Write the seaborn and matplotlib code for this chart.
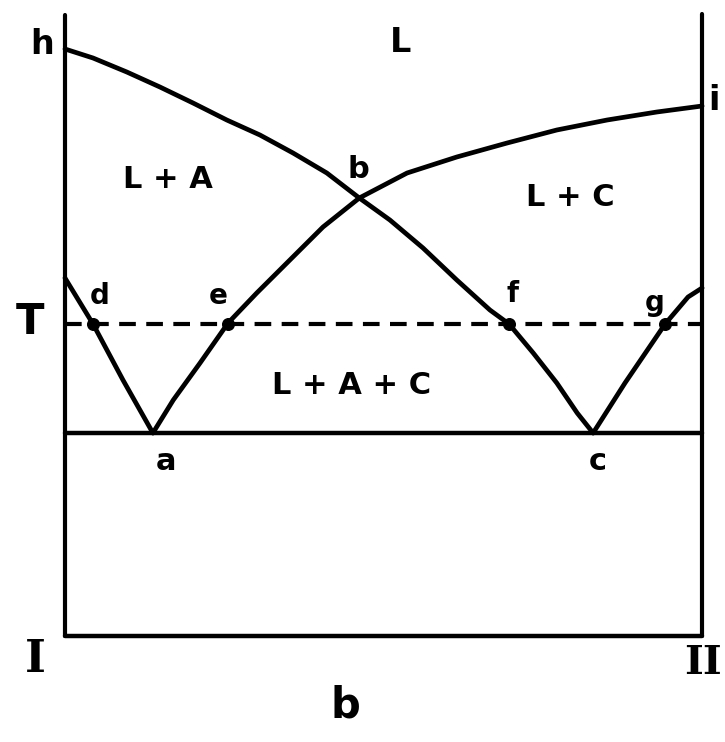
import numpy as np
import pandas as pd
import seaborn as sns
import matplotlib.pyplot as plt

sns.set_theme(style="white")
plt.rcParams["font.family"] = ["DejaVu Sans"]

# composizione (0 = I, 100 = II) e temperatura (unita arbitrarie)
liq_A_x = [0, 4.4, 9.7, 14.9, 20.1, 25.4, 30.6, 35.8, 41.1, 46.2,
           51.0, 56.2, 61.5, 66.7, 69.7, 73.5, 77.2, 80.4, 82.9]
liq_A_t = [587, 578, 564, 549, 533, 516, 501, 483, 463, 438,
           416, 388, 356, 326, 312, 283, 253, 223, 203]

liq_C_x = [13.8, 17.0, 21.2, 25.6, 30.1, 35.3, 40.5, 46.2,
           53.7, 61.5, 69.4, 77.2, 85.1, 92.9, 100]
liq_C_t = [203, 236, 273, 313, 343, 376, 409, 438,
           463, 479, 493, 506, 516, 524, 530]

left_x = [0, 4.4, 9.1, 13.8]
left_t = [358, 312, 256, 203]

right_x = [82.9, 87.9, 94.2, 97.8, 100]
right_t = [203, 253, 312, 339, 348]

T_level = 312
eut_level = 203
top_level = 621

pts_name = ["d", "e", "f", "g"]
pts_x = [4.4, 25.6, 69.7, 94.2]

fig = plt.figure(figsize=(7.25, 7.42), dpi=100)
ax = fig.add_axes([0, 0, 1, 1])

curves = [(liq_A_x, liq_A_t), (liq_C_x, liq_C_t), (left_x, left_t), (right_x, right_t)]
for cx, ct in curves:
    d = pd.DataFrame({"x": cx, "t": ct})
    sns.lineplot(data=d, x="x", y="t", sort=False, color="black", lw=3.4,
                 solid_capstyle="round", solid_joinstyle="round", ax=ax)

# bordi e linee orizzontali
ax.plot([0, 0], [0, top_level], color="black", lw=3)
ax.plot([100, 100], [0, top_level + 1], color="black", lw=3)
ax.plot([0, 100], [0, 0], color="black", lw=3.2)
ax.plot([0, 100], [eut_level, eut_level], color="black", lw=3.2)
ax.plot([0, 100], [T_level, T_level], color="black", lw=3, ls=(0, (4, 2.5)))

ax.scatter(pts_x, [T_level] * len(pts_x), s=70, color="black", zorder=5)

lab = dict(color="black", ha="center", va="center", fontweight="bold")
ax.text(-3.6, 591, "h", fontsize=24, **lab)
ax.text(101.9, 536, "i", fontsize=24, **lab)
ax.text(52.6, 594, "L", fontsize=24, **lab)
ax.text(16.2, 456, "L + A", fontsize=22, **lab)
ax.text(46.0, 466, "b", fontsize=22, **lab)
ax.text(79.3, 439, "L + C", fontsize=22, **lab)
ax.text(45.0, 251, "L + A + C", fontsize=22, **lab)
ax.text(-5.5, 314, "T", fontsize=30, **lab)
ax.text(5.5, 340, "d", fontsize=20, **lab)
ax.text(24.0, 340, "e", fontsize=20, **lab)
ax.text(70.2, 342, "f", fontsize=20, **lab)
ax.text(92.5, 333, "g", fontsize=20, **lab)
ax.text(15.9, 174, "a", fontsize=22, **lab)
ax.text(83.7, 174, "c", fontsize=22, **lab)
ax.text(-4.7, -24, "I", fontsize=32, family="DejaVu Serif", color="black",
        ha="center", va="center", fontweight="bold")
ax.text(100.2, -27, "II", fontsize=29, family="DejaVu Serif", color="black",
        ha="center", va="center", fontweight="bold")
ax.text(44.0, -69, "b", fontsize=30, **lab)

ax.set_xlim(-10.2, 103.6)
ax.set_ylim(-106, 636)
ax.set_axis_off()

fig.savefig("out.png", dpi=100)
plt.close(fig)
